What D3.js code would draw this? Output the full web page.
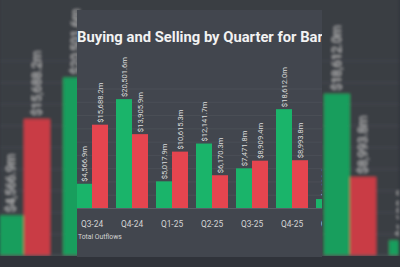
<!DOCTYPE html>
<html>
<head>
<meta charset="utf-8">
<script src="https://cdn.jsdelivr.net/npm/d3@7"></script>
<style>
  body { margin: 0; background: #3a3e46; }
  svg { display: block; }
</style>
</head>
<body>
<div id="chart"></div>
<script>
// data (values in $m)
const quarters = ["Q3-24", "Q4-24", "Q1-25", "Q2-25", "Q3-25", "Q4-25", "Q1-26"];
const inflows = [4566.9, 20501.6, 5017.9, 12141.7, 7471.8, 18612.0, 1690.0];
const outflows = [15688.2, 13905.9, 10615.3, 6170.3, 8909.4, 8993.8, null];
const gridTicks = d3.range(0, 22501, 2500);
const titleText = "Buying and Selling by Quarter for Bar";
const legendText = "Total Outflows";

const width = 400, height = 267;
// the chart card in the middle
const card = { x: 77, y: 10, w: 245, h: 247 };
const zoom = 1.63; // blurred backdrop is the same card blown up

const svg = d3.select("#chart").append("svg")
  .attr("width", width)
  .attr("height", height);

const defs = svg.append("defs");
defs.append("clipPath").attr("id", "cardClip")
  .append("rect")
  .attr("x", card.x).attr("y", card.y)
  .attr("width", card.w).attr("height", card.h);

const blur = defs.append("filter").attr("id", "blur")
  .attr("filterUnits", "userSpaceOnUse")
  .attr("x", 0).attr("y", -80).attr("width", 420).attr("height", 440);
blur.append("feGaussianBlur").attr("stdDeviation", 1.4);

// scales
const x = d3.scaleBand()
  .domain(quarters)
  .range([72, 72 + 40 * quarters.length])
  .paddingInner(0.2)
  .paddingOuter(0.1);

const xSub = d3.scaleBand()
  .domain(["in", "out"])
  .range([0, x.bandwidth()]);

const y = d3.scaleLinear()
  .domain([0, 22500])
  .range([208, 88.5]);

const fmt = v => "$" + d3.format(",.1f")(v) + "m";

const rows = quarters.map((q, i) => ({ q, inflow: inflows[i], outflow: outflows[i] }));

function drawChart(g) {
  g.attr("clip-path", "url(#cardClip)");

  g.append("rect")
    .attr("x", card.x).attr("y", card.y)
    .attr("width", card.w).attr("height", card.h)
    .attr("fill", "#42464e");

  // gridlines
  g.append("g").selectAll("line")
    .data(gridTicks)
    .enter().append("line")
    .attr("x1", card.x).attr("x2", card.x + card.w)
    .attr("y1", d => y(d) + 0.5).attr("y2", d => y(d) + 0.5)
    .attr("stroke", d => d === 0 ? "#5a5e66" : "#4b4f57")
    .attr("stroke-width", 1);

  const bars = [];
  rows.forEach(r => {
    bars.push({ q: r.q, key: "in", v: r.inflow });
    if (r.outflow != null) bars.push({ q: r.q, key: "out", v: r.outflow });
  });

  g.append("g").selectAll("rect")
    .data(bars)
    .enter().append("rect")
    .attr("x", d => x(d.q) + xSub(d.key))
    .attr("y", d => y(d.v))
    .attr("width", xSub.bandwidth())
    .attr("height", d => y(0) - y(d.v))
    .attr("fill", d => d.key === "in" ? "#1ab46a" : "#e5454f");

  // value labels, rotated
  g.append("g").selectAll("text")
    .data(bars)
    .enter().append("text")
    .attr("transform", d => {
      const cx = x(d.q) + xSub(d.key) + xSub.bandwidth() / 2;
      return `translate(${cx + 2.6},${y(d.v) - 2}) rotate(-90)`;
    })
    .attr("font-family", "Roboto, 'Noto Sans', sans-serif")
    .attr("font-size", "7.6px")
    .attr("fill", "#dcdcdc")
    .text(d => fmt(d.v));

  // x axis labels
  g.append("g").selectAll("text")
    .data(quarters)
    .enter().append("text")
    .attr("x", d => x(d) + x.bandwidth() / 2)
    .attr("y", 226.5)
    .attr("text-anchor", "middle")
    .attr("font-family", "Roboto, 'Noto Sans', sans-serif")
    .attr("font-size", "8.4px")
    .attr("fill", "#d4d4d4")
    .text(d => d);

  g.append("text")
    .attr("x", 78)
    .attr("y", 239.3)
    .attr("font-family", "Roboto, 'Noto Sans', sans-serif")
    .attr("font-size", "6.8px")
    .attr("fill", "#d4d4d4")
    .text(legendText);

  const title = g.append("text")
    .attr("x", 77)
    .attr("y", 42)
    .attr("font-family", "Roboto, 'Noto Sans', sans-serif")
    .attr("font-weight", 700)
    .attr("font-size", "14px")
    .attr("fill", "#f2f2f2")
    .text(titleText);
  // fit the title to the card width like the original
  const len = title.node().getComputedTextLength();
  title.attr("font-size", (14 * 246 / len).toFixed(2) + "px");
}

// blurred, enlarged backdrop
const back = svg.append("g").attr("filter", "url(#blur)");
const backInner = back.append("g")
  .attr("transform", `translate(200,133.5) scale(${zoom}) translate(-200,-133.5)`);
drawChart(backInner);

svg.append("rect")
  .attr("width", width).attr("height", height)
  .attr("fill", "#000").attr("opacity", 0.12);
svg.append("rect")
  .attr("y", 256).attr("width", width).attr("height", height - 256)
  .attr("fill", "#30333a");

// front card
drawChart(svg.append("g"));
</script>
</body>
</html>
